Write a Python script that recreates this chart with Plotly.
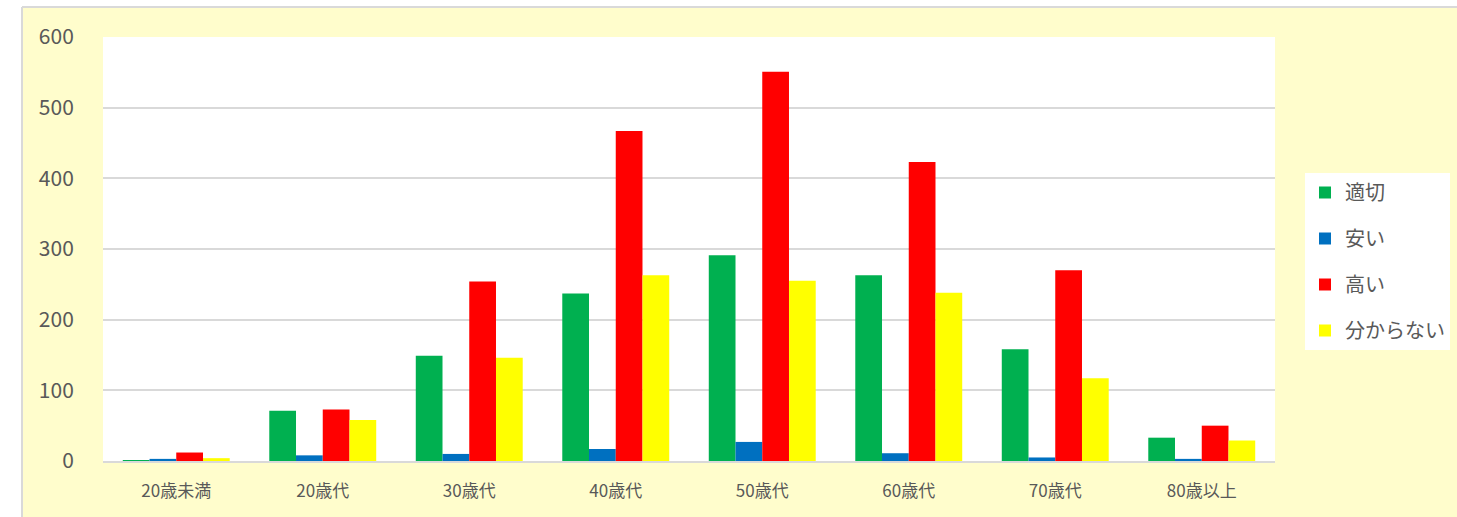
import plotly.graph_objects as go

categories = ["20歳未満", "20歳代", "30歳代", "40歳代", "50歳代", "60歳代", "70歳代", "80歳以上"]
series_names = ["適切", "安い", "高い", "分からない"]
tekisetsu = [1, 71, 149, 237, 291, 263, 158, 33]
yasui = [3, 8, 10, 17, 27, 11, 5, 3]
takai = [12, 73, 254, 467, 551, 423, 270, 50]
wakaranai = [4, 58, 146, 263, 255, 238, 117, 29]
colors = ["#00B050", "#0070C0", "#FF0000", "#FFFF00"]

FONT = "Noto Sans CJK JP"
W, H = 1457, 517
L, R, T, B = 103, 182, 37, 56
pw, ph = W - L - R, H - T - B


def px_x(x):
    return (x - L) / pw


def px_y(y):
    return (H - B - y) / ph


fig = go.Figure()
for i, (name, vals) in enumerate(zip(series_names, [tekisetsu, yasui, takai, wakaranai])):
    fig.add_trace(go.Bar(
        x=categories, y=vals, name=name, legendgroup=name,
        marker=dict(color=colors[i], line=dict(width=0)),
    ))

shapes = [
    # white outer strips on the left and top, then the grey frame line
    dict(type="rect", xref="paper", yref="paper", x0=px_x(0), x1=px_x(22), y0=px_y(H), y1=px_y(0),
         fillcolor="white", line=dict(width=0), layer="below"),
    dict(type="rect", xref="paper", yref="paper", x0=px_x(0), x1=px_x(W), y0=px_y(7), y1=px_y(0),
         fillcolor="white", line=dict(width=0), layer="below"),
    dict(type="line", xref="paper", yref="paper", x0=px_x(22), x1=px_x(22), y0=px_y(H), y1=px_y(7),
         line=dict(color="#D9D9D9", width=2)),
    dict(type="line", xref="paper", yref="paper", x0=px_x(22), x1=px_x(W), y0=px_y(7), y1=px_y(7),
         line=dict(color="#D9D9D9", width=2)),
]

fig.update_layout(
    width=W, height=H,
    margin=dict(l=L, r=R, t=T, b=B, autoexpand=False),
    paper_bgcolor="#FFFDCC", plot_bgcolor="white",
    barmode="group", bargap=0.27, bargroupgap=0,
    font=dict(family=FONT, color="#595959"),
    shapes=shapes,
    legend=dict(
        x=px_x(1305), y=px_y(173), xanchor="left", yanchor="top",
        bgcolor="white", font=dict(size=20, color="#595959"),
        traceorder="grouped", tracegroupgap=17,
    ),
    xaxis=dict(
        showline=True, linecolor="#D9D9D9", linewidth=2,
        ticks="outside", ticklen=14, tickcolor="rgba(0,0,0,0)",
        tickfont=dict(size=17, color="#595959"),
    ),
    yaxis=dict(
        range=[0, 600], dtick=100, showgrid=True, gridcolor="#D9D9D9", gridwidth=1.5,
        zeroline=False,
        ticks="outside", ticklen=24, tickcolor="rgba(0,0,0,0)",
        tickfont=dict(size=21, color="#595959"),
    ),
)

# drop the page's default body margin so the figure sits at the window's corner
fig.write_html("out.html", config={"displayModeBar": False},
               post_script="document.body.style.margin='0';")
